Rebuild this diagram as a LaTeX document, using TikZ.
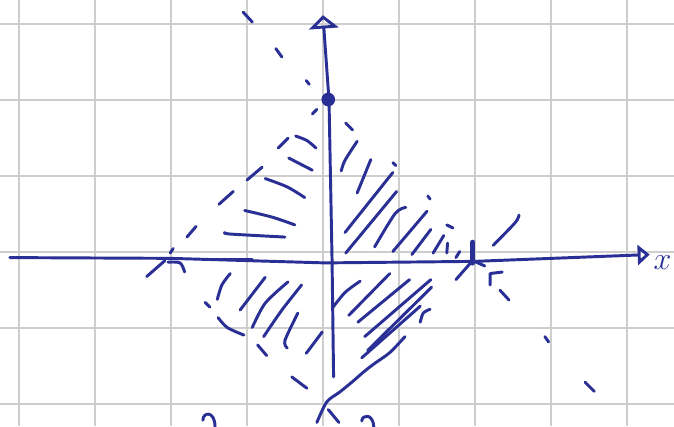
\documentclass[tikz,border=0pt]{standalone}
\usepackage{amsmath,amssymb}
\usepackage{tikz}
\usetikzlibrary{arrows.meta}

\definecolor{inkblue}{RGB}{42,47,150}
\definecolor{gridgray}{RGB}{206,206,206}
\tikzset{
  ink/.style={draw=inkblue, line width=1.1pt, line cap=round, line join=round},
  gridline/.style={draw=gridgray, line width=0.8pt}
}

\begin{document}
\begin{tikzpicture}
    % Paper
    \fill[white] (-4.25,-2.29) rectangle (4.62,3.32);
    \useasboundingbox (-4.25,-2.29) rectangle (4.62,3.32);
    \foreach \x in {-4,...,4} \draw[gridline] (\x,-2.29) -- (\x,3.32);
    \foreach \y in {-2,...,3} \draw[gridline] (-4.25,\y) -- (4.62,\y);

    % Axes
    \draw[ink, -{Triangle[open, length=4.5pt, width=7.5pt]}]
      (-4.12,-0.07) -- (-2.01,-0.08) -- (0.03,-0.14) -- (1.99,-0.12) -- (4.30,-0.03);
    \draw[ink] (-1.45,-0.09) -- (-0.93,-0.09);
    \draw[ink, -{Triangle[open, length=5pt, width=11pt]}]
      (0.14,-1.64) -- (0.12,-0.11) -- (0.08,2.0) -- (0,3.12);
    \node[inkblue, font=\large, inner sep=0pt] (xlab) at (4.47,-0.13) {$x$};

    % Point on the y-axis and tick on the x-axis
    \coordinate (top) at (0.07,2.01);
    \fill[inkblue] (top) circle (0.09);
    \draw[ink, line width=2pt] (1.97,0.13) -- (1.97,-0.14);

    % Dashed line through the point and the tick
    \draw[ink] (-1.05,3.16) -- (-0.93,3.03);
    \draw[ink] (-0.62,2.68) -- (-0.54,2.57);
    \draw[ink] (-0.22,2.26) -- (-0.18,2.21);
    \draw[ink] (0.30,1.70) -- (0.39,1.61);
    \draw[ink] (0.92,1.18) -- (0.96,1.14);
    \draw[ink] (1.38,0.74) -- (1.41,0.70);
    \draw[ink] (1.63,0.36) -- (1.71,0.32);
    \draw[ink] (1.97,-0.11) -- (2.13,-0.18);
    \draw[ink] (2.20,-0.43) -- (2.20,-0.28) -- (2.36,-0.26);
    \draw[ink] (2.33,-0.50) -- (2.45,-0.63);
    \draw[ink] (2.92,-1.11) -- (2.97,-1.18);
    \draw[ink] (3.45,-1.71) -- (3.57,-1.83);

    % Upper left edge
    \draw[ink] (-0.14,1.82) -- (-0.08,1.88);
    \draw[ink] (-0.59,1.37) -- (-0.46,1.50);
    \draw[ink] (-1.00,0.95) -- (-0.80,1.12);
    \draw[ink] (-1.37,0.63) -- (-1.18,0.80);
    \draw[ink] (-1.79,0.20) -- (-1.67,0.34);
    \draw[ink] (-2.01,-0.01) -- (-1.97,0.05);
    \draw[ink] (-2.32,-0.32) -- (-2.08,-0.11);
    \draw[ink] plot[smooth] coordinates {(-2.04,-0.13) (-1.88,-0.14) (-1.82,-0.26)};

    % Right edge below and above the tick
    \draw[ink] (1.75,-0.36) -- (1.97,-0.11);
    \draw[ink] plot[smooth] coordinates {(2.24,0.09) (2.53,0.39) (2.58,0.49)};

    % Lower right edge
    \draw[ink] plot[smooth] coordinates {(1.08,-1.11) (0.88,-1.32) (0.67,-1.47) (0.53,-1.58)
      (0.38,-1.71) (0.22,-1.84) (0.05,-1.97) (-0.08,-2.24)};
    \draw[ink] (0.07,-2.07) -- (0.21,-2.24);

    % Lower left edge
    \draw[ink] (-1.55,-0.66) -- (-1.49,-0.72);
    \draw[ink] plot[smooth] coordinates {(-1.38,-0.86) (-1.26,-0.99) (-1.04,-1.09)};
    \draw[ink] (-0.86,-1.22) -- (-0.74,-1.36);
    \draw[ink] (-0.41,-1.64) -- (-0.21,-1.79);

    % Hatching, upper right
    \draw[ink] plot[smooth] coordinates {(0.24,1.07) (0.29,1.21) (0.45,1.46)};
    \draw[ink] (0.45,0.78) -- (0.63,1.22);
    \draw[ink] (0.29,0.26) -- (0.92,1.05);
    \draw[ink] (0.30,-0.01) -- (0.97,0.80);
    \draw[ink] plot[smooth] coordinates {(0.68,0.07) (0.95,0.51) (1.09,0.59)};
    \draw[ink] (0.92,0.01) -- (1.37,0.54);
    \draw[ink] (1.17,-0.03) -- (1.42,0.30);
    \draw[ink] (1.45,-0.01) -- (1.59,0.22);
    \draw[ink] (1.63,-0.01) -- (1.64,0.12);
    \draw[ink] (1.75,-0.07) -- (1.80,0.01);

    % Hatching, upper left
    \draw[ink] plot[smooth] coordinates {(-0.36,1.53) (-0.21,1.47) (-0.09,1.37)};
    \draw[ink] (-0.45,1.24) -- (-0.14,1.08);
    \draw[ink] plot[smooth] coordinates {(-0.76,0.97) (-0.47,0.86) (-0.24,0.72)};
    \draw[ink] plot[smooth] coordinates {(-1.03,0.55) (-0.66,0.46) (-0.37,0.36)};
    \draw[ink] plot[smooth] coordinates {(-1.29,0.26) (-1.22,0.24) (-0.50,0.20)};

    % Hatching, lower left
    \draw[ink] plot[smooth] coordinates {(-1.39,-0.62) (-1.33,-0.43) (-1.22,-0.28)};
    \draw[ink] (-1.09,-0.76) -- (-0.76,-0.33);
    \draw[ink] plot[smooth] coordinates {(-0.93,-0.99) (-0.76,-0.67) (-0.46,-0.39)};
    \draw[ink] plot[smooth] coordinates {(-0.78,-1.11) (-0.54,-0.76) (-0.28,-0.43)};
    \draw[ink] plot[smooth] coordinates {(-0.47,-1.26) (-0.50,-1.16) (-0.33,-0.80)};
    \draw[ink] (-0.22,-1.33) -- (-0.01,-1.05);

    % Hatching, lower right
    \draw[ink] plot[smooth] coordinates {(0.12,-0.74) (0.29,-0.53) (0.49,-0.38)};
    \draw[ink] (0.34,-0.83) -- (0.88,-0.28);
    \draw[ink] (0.46,-0.92) -- (1.14,-0.36);
    \draw[ink] (0.55,-1.11) -- (1.42,-0.36);
    \draw[ink] (0.59,-1.29) -- (1.43,-0.46);
    \draw[ink] (0.51,-1.39) -- (1.28,-0.71);
    \draw[ink] plot[smooth] coordinates {(1.28,-0.92) (1.32,-0.80) (1.41,-0.75)};

    % Marks cut off at the bottom
    \draw[ink] (-1.58,-2.21) .. controls (-1.58,-2.10) and (-1.42,-2.08) .. (-1.42,-2.30);
    \draw[ink] (0.51,-2.22) .. controls (0.52,-2.13) and (0.66,-2.12) .. (0.67,-2.30);
\end{tikzpicture}
\end{document}
